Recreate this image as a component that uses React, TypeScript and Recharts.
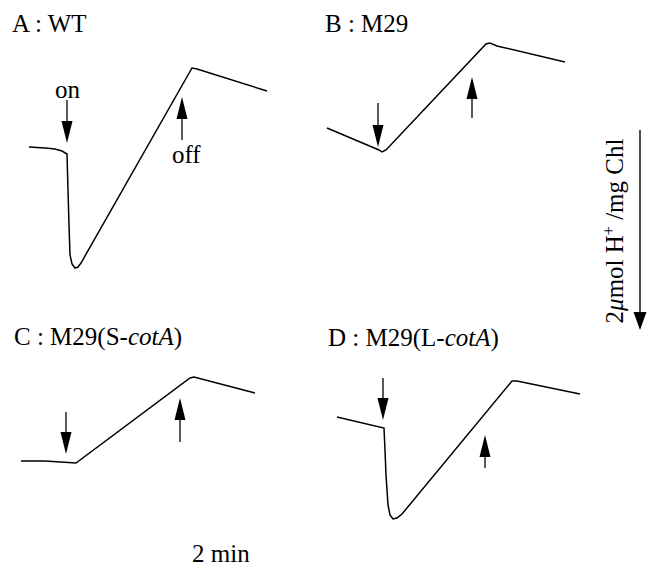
import React from 'react';
import { LineChart, Line, XAxis, YAxis, ReferenceLine } from 'recharts';

// time in min (0 = light on), signal in µmol H+ / mg Chl
const wtTime = [-0.76, -0.44, -0.24, -0.1, 0, 0.02, 0.04, 0.06, 0.1, 0.16, 0.22, 0.28, 2.5, 2.6, 4.0];
const wtSignal = [0.07, 0.06, 0.05, 0.03, 0, -0.36, -0.71, -1.01, -1.1, -1.14, -1.13, -1.09, 0.86, 0.85, 0.63];

const m29Time = [-1.02, 0.02, 0.08, 0.16, 2.16, 2.24, 2.38, 3.74];
const m29Signal = [0.23, 0.01, -0.01, 0.01, 1.07, 1.08, 1.05, 0.89];

const sCotTime = [-0.9, -0.42, 0.2, 2.48, 2.56, 3.78];
const sCotSignal = [0.02, 0.02, 0, 0.85, 0.86, 0.7];

const lCotTime = [-0.92, 0.02, 0.04, 0.06, 0.1, 0.14, 0.2, 0.28, 0.38, 2.58, 2.68, 3.94];
const lCotSignal = [0.11, 0, -0.22, -0.47, -0.77, -0.87, -0.91, -0.9, -0.86, 0.47, 0.47, 0.34];

// light on / off arrows: time, tail level, head level
const wtArrows = [[0, 0.54, 0.11], [2.3, 0.14, 0.57]];
const m29Arrows = [[0, 0.48, 0.04], [1.88, 0.33, 0.74]];
const sCotArrows = [[0, 0.51, 0.09], [2.28, 0.21, 0.65]];
const lCotArrows = [[0, 0.5, 0.08], [2.04, -0.4, -0.07]];

const scaleBar = [0.1, -1.9]; // 2 µmol H+ / mg Chl

const T_DOMAIN: [number, number] = [-1.2, 4.2];
const Y_DOMAIN: [number, number] = [-1.4, 1.2];
const serif = '"Liberation Serif", "Times New Roman", serif';

const Arrow = (props: any) => {
  const { x1, y1, x2, y2, head = 22, half = 5.5, sw = 1.3 } = props;
  const dir = y2 > y1 ? 1 : -1;
  const base = y2 - dir * head;
  return (
    <g>
      <line x1={x1} y1={y1} x2={x2} y2={base} stroke="#000" strokeWidth={sw} />
      <polygon points={`${x2 - half},${base} ${x2 + half},${base} ${x2},${y2}`} fill="#000" />
    </g>
  );
};

function Panel({ time, signal, arrows, left, top }: any) {
  const data = time.map((t: number, i: number) => ({ t, v: signal[i] }));
  return (
    <div style={{ position: 'absolute', left, top }}>
      <LineChart width={270} height={260} data={data} margin={{ top: 0, right: 0, bottom: 0, left: 0 }}>
        <XAxis type="number" dataKey="t" domain={T_DOMAIN} hide />
        <YAxis type="number" domain={Y_DOMAIN} hide />
        <Line type="linear" dataKey="v" stroke="#000" strokeWidth={1.5} dot={false} isAnimationActive={false} />
        {arrows.map((a: number[], i: number) => (
          <ReferenceLine
            key={i}
            segment={[{ x: a[0], y: a[1] }, { x: a[0], y: a[2] }]}
            shape={(p: any) => <Arrow {...p} />}
          />
        ))}
      </LineChart>
    </div>
  );
}

export default function App() {
  const barData = scaleBar.map((v) => ({ t: 0.5, v }));
  return (
    <div style={{ position: 'fixed', left: 0, top: 0, width: 647, height: 569, background: '#fff' }}>
      <Panel time={wtTime} signal={wtSignal} arrows={wtArrows} left={7} top={34} />
      <Panel time={m29Time} signal={m29Signal} arrows={m29Arrows} left={318} top={31} />
      <Panel time={sCotTime} signal={sCotSignal} arrows={sCotArrows} left={6} top={343} />
      <Panel time={lCotTime} signal={lCotSignal} arrows={lCotArrows} left={323} top={308} />

      <div style={{ position: 'absolute', left: 630, top: 120 }}>
        <LineChart width={20} height={230} data={barData} margin={{ top: 0, right: 0, bottom: 0, left: 0 }}>
          <XAxis type="number" dataKey="t" domain={[0, 1]} hide />
          <YAxis type="number" domain={[-2.1, 0.2]} hide />
          <Line type="linear" dataKey="v" stroke="none" dot={false} isAnimationActive={false} />
          <ReferenceLine
            segment={[{ x: 0.5, y: scaleBar[0] }, { x: 0.5, y: scaleBar[1] }]}
            shape={(p: any) => <Arrow {...p} head={18} half={6.5} sw={1.4} />}
          />
        </LineChart>
      </div>

      <svg width={647} height={569} style={{ position: 'absolute', left: 0, top: 0, pointerEvents: 'none' }}>
        <g fontFamily={serif} fontSize={25} fill="#000">
          <text x={12} y={32}>A : WT</text>
          <text x={325} y={32}>B : M29</text>
          <text x={14} y={345}>C : M29(S-<tspan fontStyle="italic">cotA</tspan>)</text>
          <text x={328} y={346}>D : M29(L-<tspan fontStyle="italic">cotA</tspan>)</text>
          <text x={55} y={98}>on</text>
          <text x={172} y={163}>off</text>
          <text x={192} y={562}>2 min</text>
          <text transform="translate(623,231) rotate(-90)" textAnchor="middle">
            2<tspan fontStyle="italic">μ</tspan>mol H<tspan fontSize={16} dy={-9}>+</tspan>
            <tspan dy={9}> /mg Chl</tspan>
          </text>
        </g>
      </svg>
    </div>
  );
}
